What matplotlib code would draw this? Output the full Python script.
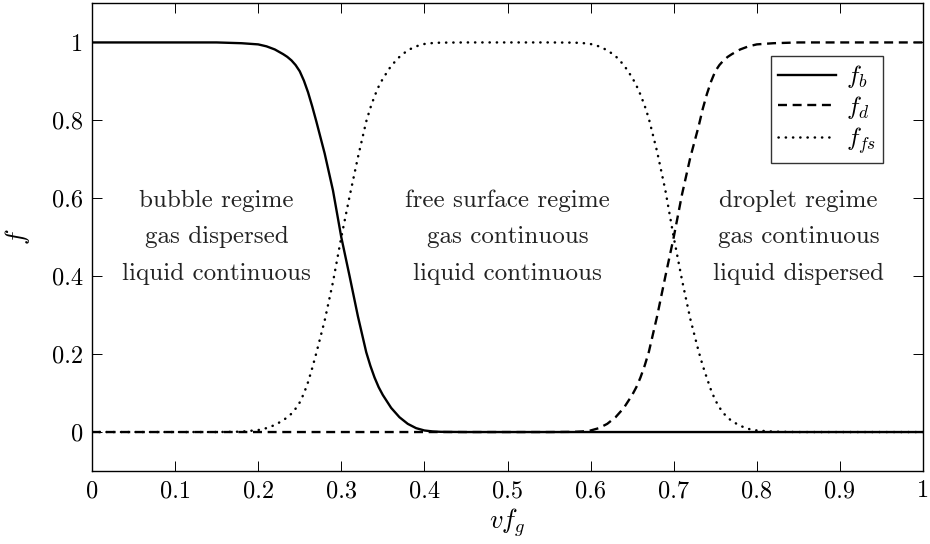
import numpy as np
import matplotlib
matplotlib.use('Agg')
import matplotlib.pyplot as plt

plt.rcParams['font.family'] = 'cmr10'
plt.rcParams['mathtext.fontset'] = 'cm'
plt.rcParams['axes.unicode_minus'] = False

# values
x_b = [0.0, 0.10, 0.15, 0.18, 0.20, 0.21, 0.22, 0.23, 0.235, 0.24, 0.245,
       0.25, 0.255, 0.26, 0.265, 0.27, 0.28, 0.29, 0.30, 0.31, 0.32, 0.33,
       0.335, 0.34, 0.345, 0.35, 0.36, 0.37, 0.38, 0.39, 0.40, 0.41, 0.42,
       0.45, 0.55, 0.70, 0.85, 1.0]
f_b = [1.0, 1.0, 1.0, 0.998, 0.995, 0.99, 0.982, 0.97, 0.963, 0.954, 0.942,
       0.926, 0.902, 0.872, 0.836, 0.797, 0.715, 0.62, 0.50, 0.40, 0.297, 0.205,
       0.17, 0.14, 0.115, 0.095, 0.062, 0.038, 0.021, 0.01, 0.004, 0.0015, 0.0005,
       0.0, 0.0, 0.0, 0.0, 0.0]

x_d = [0.0, 0.15, 0.30, 0.45, 0.55,
       0.58, 0.59, 0.60, 0.61, 0.62, 0.63, 0.64, 0.65, 0.655, 0.66, 0.665,
       0.67, 0.68, 0.69, 0.70, 0.71, 0.72, 0.73, 0.735, 0.74, 0.745, 0.75,
       0.755, 0.76, 0.765, 0.77, 0.78, 0.79, 0.80, 0.82, 0.85, 0.90, 1.0]
f_d = [0.0, 0.0, 0.0, 0.0, 0.0,
       0.0005, 0.0015, 0.004, 0.01, 0.021, 0.038, 0.062, 0.095, 0.115, 0.14, 0.17,
       0.205, 0.297, 0.40, 0.50, 0.61, 0.705, 0.785, 0.83, 0.868, 0.9, 0.926,
       0.942, 0.954, 0.963, 0.97, 0.982, 0.99, 0.995, 0.998, 1.0, 1.0, 1.0]

x_fs = [0.0, 0.10, 0.15, 0.18, 0.20, 0.21, 0.22, 0.23, 0.235, 0.24, 0.245,
        0.25, 0.255, 0.26, 0.265, 0.27, 0.28, 0.29, 0.30, 0.31, 0.32, 0.33,
        0.335, 0.34, 0.345, 0.35, 0.36, 0.37, 0.38, 0.39, 0.40, 0.41, 0.42,
        0.45, 0.50, 0.55,
        0.58, 0.59, 0.60, 0.61, 0.62, 0.63, 0.64, 0.65, 0.655, 0.66, 0.665,
        0.67, 0.68, 0.69, 0.70, 0.71, 0.72, 0.73, 0.735, 0.74, 0.745, 0.75,
        0.755, 0.76, 0.765, 0.77, 0.78, 0.79, 0.80, 0.82, 0.85, 0.90, 1.0]
f_fs = [0.0, 0.0, 0.0, 0.001, 0.005, 0.01, 0.018, 0.03, 0.038, 0.047, 0.06,
        0.076, 0.099, 0.128, 0.164, 0.203, 0.286, 0.385, 0.50, 0.605, 0.705, 0.797,
        0.832, 0.862, 0.887, 0.907, 0.94, 0.963, 0.98, 0.99, 0.996, 0.9985, 0.9995,
        1.0, 1.0, 1.0,
        0.9995, 0.9985, 0.996, 0.99, 0.98, 0.965, 0.942, 0.91, 0.89, 0.866, 0.838,
        0.805, 0.72, 0.62, 0.50, 0.39, 0.29, 0.207, 0.17, 0.138, 0.107, 0.082,
        0.063, 0.048, 0.037, 0.028, 0.016, 0.008, 0.004, 0.001, 0.0, 0.0, 0.0]

regime_x = [0.15, 0.5, 0.85]
regime_text = ['bubble regime\ngas dispersed\nliquid continuous',
               'free surface regime\ngas continuous\nliquid continuous',
               'droplet regime\ngas continuous\nliquid dispersed']

fig = plt.figure(figsize=(9.3, 5.44), dpi=100)
ax = fig.add_axes([0.0989, 0.1342, 0.8936, 0.8594])

ax.plot(x_b, f_b, color='black', lw=1.7, label='$f_b$')
ax.plot(x_d, f_d, color='black', lw=1.7, linestyle=(0, (3.8, 2.4)), label='$f_d$')
ax.plot(x_fs, f_fs, color='black', lw=1.8, linestyle=(0, (0.1, 2.8)),
        dash_capstyle='round', label='$f_{fs}$')

for xp, txt in zip(regime_x, regime_text):
    ax.text(xp, 0.5, txt, ha='center', va='center', fontsize=18,
            linespacing=1.85, color='#222222')

ax.set_xlim(0, 1)
ax.set_ylim(-0.1, 1.1)
xt = [0, 0.1, 0.2, 0.3, 0.4, 0.5, 0.6, 0.7, 0.8, 0.9, 1]
yt = [0, 0.2, 0.4, 0.6, 0.8, 1]
ax.set_xticks(xt)
ax.set_xticklabels(['%g' % v for v in xt])
ax.set_yticks(yt)
ax.set_yticklabels(['%g' % v for v in yt])
ax.tick_params(direction='in', length=7.5, width=0.7, labelsize=17.5,
               top=True, right=True, pad=6.5)
for s in ax.spines.values():
    s.set_linewidth(1.0)

ax.set_xlabel('$vf_g$', fontsize=19, labelpad=3)
ax.set_ylabel('$f$', fontsize=19, labelpad=14)

leg = ax.legend(loc='upper right', bbox_to_anchor=(0.952, 0.888),
                borderaxespad=0, fancybox=False, edgecolor='black',
                fontsize=18, handlelength=2.3, labelspacing=0.15,
                handletextpad=0.4, borderpad=0.3)
leg.get_frame().set_linewidth(1.0)

plt.savefig('out.png', dpi=100)
